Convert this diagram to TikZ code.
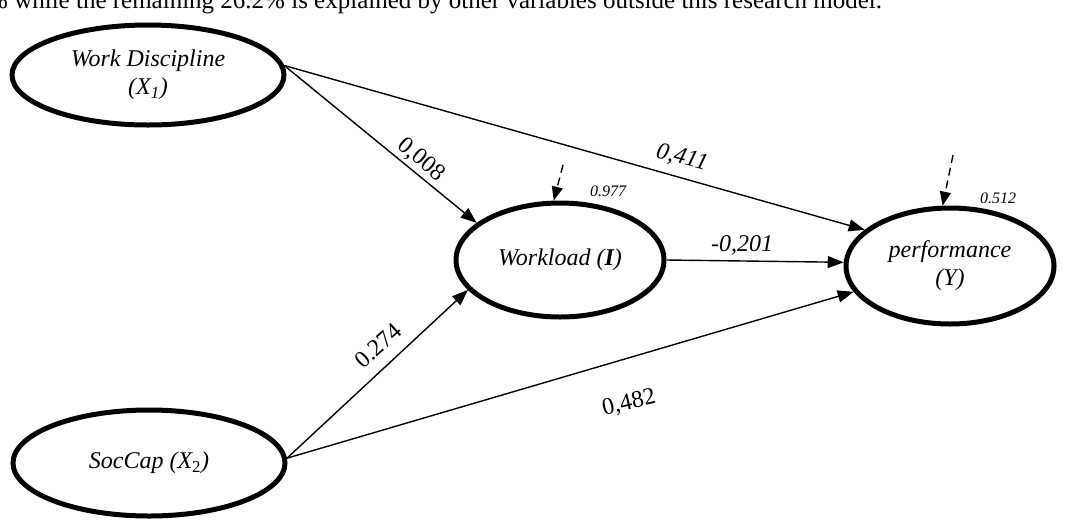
\documentclass[tikz,border=0pt]{standalone}
\usepackage{fontspec}
\setmainfont{Liberation Serif}
\usetikzlibrary{shapes.geometric,arrows.meta}
\begin{document}
\begin{tikzpicture}[x=1pt,y=-1pt,
  latent/.style={ellipse,draw,line width=5pt,inner sep=0pt,align=center,
    font=\itshape\fontsize{24}{28}\selectfont},
  path/.style={line width=1.4pt,-{Triangle[length=16pt,width=12pt]}},
  resid/.style={line width=1.4pt,dash pattern=on 8pt off 5pt,-{Triangle[length=14pt,width=11pt]}},
  coef/.style={font=\fontsize{24}{28}\selectfont,inner sep=0pt},
  icoef/.style={font=\itshape\fontsize{24}{28}\selectfont,inner sep=0pt},
  rsq/.style={font=\itshape\fontsize{16}{18}\selectfont,inner sep=0pt}]
\useasboundingbox (0,0) rectangle (1066,523);
\clip (0,0) rectangle (1066,523);
\node[anchor=base west,inner sep=0pt,font=\fontsize{25}{29}\selectfont] (top) at (-13,8)
  {\% while the remaining 26.2\% is explained by other variables outside this research model.};
\node[latent,minimum width=272pt,minimum height=100pt] (wd) at (148,75)
  {Work Discipline\\(X\textsubscript{\itshape 1})};
\node[latent,minimum width=272pt,minimum height=106pt] (soc) at (149,463)
  {SocCap (X\textsubscript{\upshape 2})};
\node[latent,minimum width=208pt,minimum height=114pt] (wl) at (560,260)
  {Workload (\textbf{I})};
\node[latent,minimum width=208pt,minimum height=116pt] (pf) at (950,266)
  {performance\\(Y)};
\coordinate (e1) at (563,165);
\coordinate (e2) at (953,155);
\draw[path] (wd.4) -- (wl.156);
\draw[path] (wd.4) -- (pf.157);
\draw[path] (wl.0) -- (pf.178);
\draw[path] (soc.2) -- (wl.198);
\draw[path] (soc.2) -- (pf.195);
\draw[resid] (e1) -- (wl.96);
\draw[resid] (e2) -- (pf.97);
\node[coef,rotate=-40] (c1) at (421,160) {0,008};
\node[icoef,rotate=-15] (c2) at (682,158) {0,411};
\node[icoef] (c3) at (742,245) {-0,201};
\node[coef,rotate=42] (c4) at (378,346) {0.274};
\node[coef,rotate=13] (c5) at (629,403) {0,482};
\node[rsq] (r1) at (608,191) {0.977};
\node[rsq] (r2) at (998,198) {0.512};
\end{tikzpicture}
\end{document}
